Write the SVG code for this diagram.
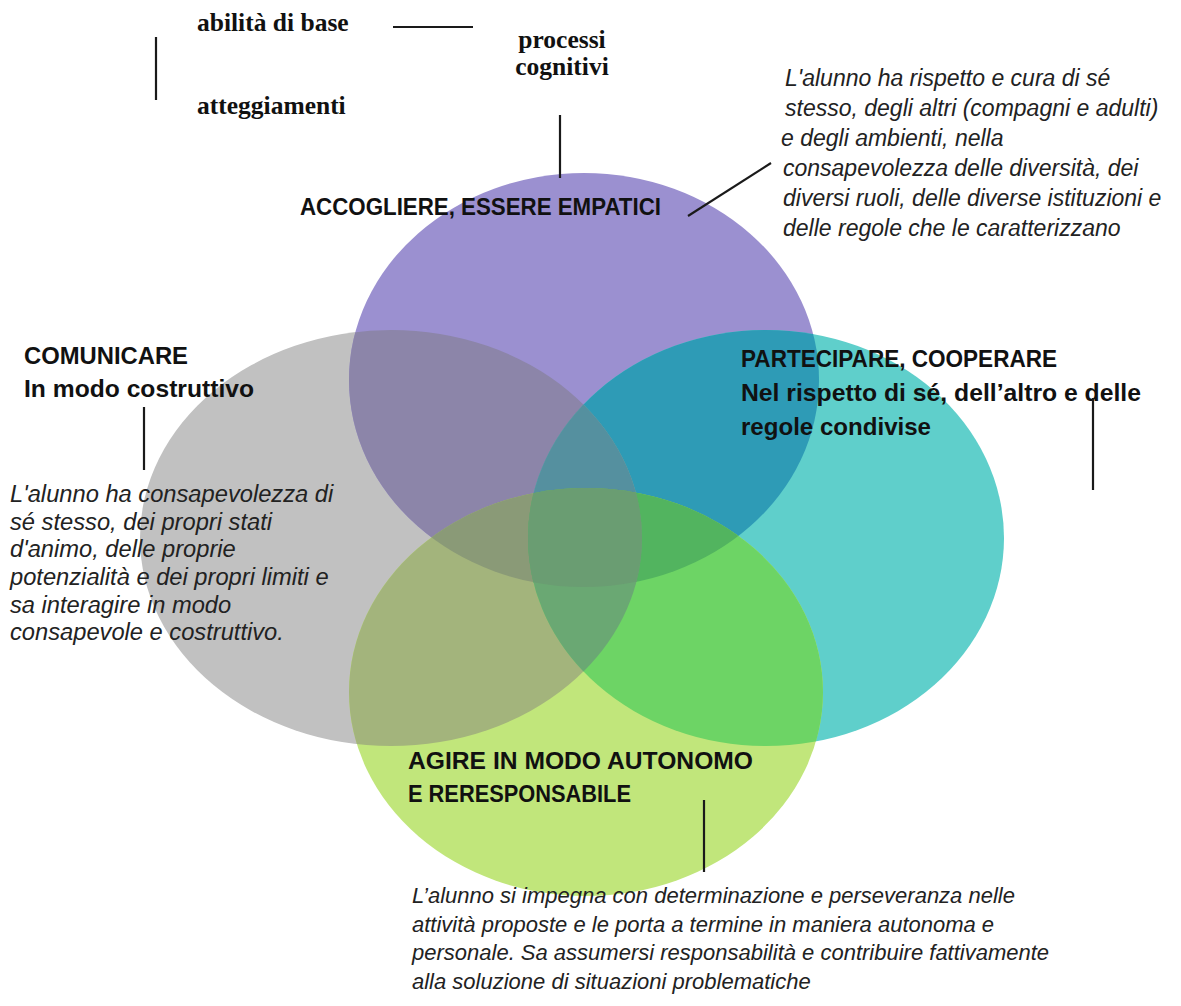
<svg xmlns="http://www.w3.org/2000/svg" xmlns:xlink="http://www.w3.org/1999/xlink" width="1181" height="1006" viewBox="0 0 1181 1006">
<style>
.legend{font-family:"Liberation Serif","Times New Roman",serif;font-weight:bold;font-size:25.5px;fill:#111}
.head{font-family:"Liberation Sans",Arial,sans-serif;font-weight:bold;font-size:24px;fill:#111}
.para{font-family:"Liberation Sans",Arial,sans-serif;font-style:italic;font-size:23px;fill:#222}
.conn line{stroke:#1a1a1a;stroke-width:2.2}
</style>
<defs>
<ellipse id="eP" cx="584" cy="380" rx="235" ry="207"/>
<ellipse id="eG" cx="391" cy="538" rx="251" ry="208"/>
<ellipse id="eT" cx="766" cy="538" rx="238" ry="208"/>
<ellipse id="eGr" cx="586" cy="692" rx="237" ry="204"/>
<clipPath id="cP"><use href="#eP"/></clipPath>
<clipPath id="cG"><use href="#eG"/></clipPath>
<clipPath id="cT"><use href="#eT"/></clipPath>
<clipPath id="cPG" clip-path="url(#cP)"><use href="#eG"/></clipPath>
<clipPath id="cPT" clip-path="url(#cP)"><use href="#eT"/></clipPath>
<clipPath id="cGT" clip-path="url(#cG)"><use href="#eT"/></clipPath>
<clipPath id="cPGT" clip-path="url(#cPG)"><use href="#eT"/></clipPath>
</defs>
<rect width="1181" height="1006" fill="#ffffff"/>
<g id="venn">
<use id="circle-comunicare" href="#eG" fill="#c1c1c1"/>
<use id="circle-accogliere" href="#eP" fill="#9b90d0"/>
<use id="circle-partecipare" href="#eT" fill="#5fcfcb"/>
<use id="circle-agire" href="#eGr" fill="#c1e67b"/>
<use href="#eG" fill="#8c85a9" clip-path="url(#cP)"/>
<use href="#eT" fill="#2e9bb6" clip-path="url(#cP)"/>
<use href="#eT" fill="#7fa9a6" clip-path="url(#cG)"/>
<use href="#eGr" fill="#8ea37a" clip-path="url(#cP)"/>
<use href="#eGr" fill="#a3b47c" clip-path="url(#cG)"/>
<use href="#eGr" fill="#6dd465" clip-path="url(#cT)"/>
<use href="#eT" fill="#55909f" clip-path="url(#cPG)"/>
<use href="#eGr" fill="#8a9a77" clip-path="url(#cPG)"/>
<use href="#eGr" fill="#52b45f" clip-path="url(#cPT)"/>
<use href="#eGr" fill="#6aa873" clip-path="url(#cGT)"/>
<use href="#eGr" fill="#6a9d72" clip-path="url(#cPGT)"/>
</g>
<g id="legend">
<text class="legend" x="197" y="31">abilità di base</text>
<text class="legend" x="562" y="48" text-anchor="middle">processi</text>
<text class="legend" x="562" y="75" text-anchor="middle">cognitivi</text>
<text class="legend" x="197" y="114">atteggiamenti</text>
</g>
<g id="node-accogliere">
<text class="head" x="300" y="215" textLength="361" lengthAdjust="spacingAndGlyphs">ACCOGLIERE, ESSERE EMPATICI</text>
<text class="para" x="785"><tspan x="785" y="86">L'alunno ha rispetto e cura di sé</tspan><tspan x="785" y="116">stesso, degli altri (compagni e adulti)</tspan><tspan x="781" y="146">e degli ambienti, nella</tspan><tspan x="783" y="176">consapevolezza delle diversità, dei</tspan><tspan x="783" y="206">diversi ruoli, delle diverse istituzioni e</tspan><tspan x="783" y="236">delle regole che le caratterizzano</tspan></text>
</g>
<g id="node-comunicare">
<text class="head" x="24" y="364" textLength="164" lengthAdjust="spacingAndGlyphs">COMUNICARE</text>
<text class="head" x="24" y="397" textLength="230" lengthAdjust="spacingAndGlyphs">In modo costruttivo</text>
<text class="para" style="font-size:23.7px"><tspan x="10" y="502">L'alunno ha consapevolezza di</tspan><tspan x="10" y="530">sé stesso, dei propri stati</tspan><tspan x="10" y="557">d'animo, delle proprie</tspan><tspan x="10" y="585">potenzialità e dei propri limiti e</tspan><tspan x="10" y="613">sa interagire in modo</tspan><tspan x="10" y="640">consapevole e costruttivo.</tspan></text>
</g>
<g id="node-partecipare">
<text class="head" x="741" y="367" textLength="316" lengthAdjust="spacingAndGlyphs">PARTECIPARE, COOPERARE</text>
<text class="head" x="741" y="401" textLength="400" lengthAdjust="spacingAndGlyphs">Nel rispetto di sé, dell’altro e delle</text>
<text class="head" x="741" y="435" textLength="190" lengthAdjust="spacingAndGlyphs">regole condivise</text>
</g>
<g id="node-agire">
<text class="head" x="408" y="769" textLength="345" lengthAdjust="spacingAndGlyphs">AGIRE IN MODO AUTONOMO</text>
<text class="head" x="408" y="802" textLength="223" lengthAdjust="spacingAndGlyphs">E RERESPONSABILE</text>
<text class="para" style="font-size:22px"><tspan x="412" y="903">L’alunno si impegna con determinazione e perseveranza nelle</tspan><tspan x="412" y="932">attività proposte e le porta a termine in maniera autonoma e</tspan><tspan x="412" y="960">personale. Sa assumersi responsabilità e contribuire fattivamente</tspan><tspan x="412" y="989">alla soluzione di situazioni problematiche</tspan></text>
</g>
<g id="connectors" class="conn">
<line x1="393" y1="27" x2="473" y2="27"/>
<line x1="156" y1="37" x2="156" y2="100"/>
<line x1="560" y1="115" x2="560" y2="178"/>
<line x1="688" y1="216" x2="771" y2="163"/>
<line x1="144" y1="407" x2="144" y2="470"/>
<line x1="1093" y1="398" x2="1093" y2="490"/>
<line x1="704" y1="800" x2="704" y2="872"/>
</g>
</svg>
